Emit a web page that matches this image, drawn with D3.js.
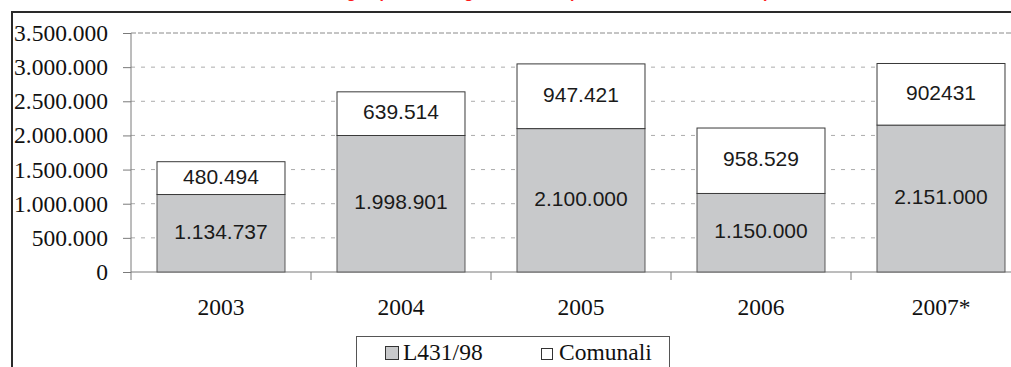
<!DOCTYPE html>
<html>
<head>
<meta charset="utf-8">
<script src="https://cdn.jsdelivr.net/npm/d3@7"></script>
<style>
  html, body { margin: 0; padding: 0; background: #fff; }
  svg { display: block; }
</style>
</head>
<body>
<svg id="chart" width="1011" height="367"></svg>
<script>
// Anni e contributi (euro) per fonte di finanziamento
const anni = ["2003", "2004", "2005", "2006", "2007*"];
const etichetteL431 = ["1.134.737", "1.998.901", "2.100.000", "1.150.000", "2.151.000"];
const etichetteComunali = ["480.494", "639.514", "947.421", "958.529", "902431"];
const valoriL431 = etichetteL431.map(s => +s.replace(/\./g, ""));
const valoriComunali = etichetteComunali.map(s => +s.replace(/\./g, ""));
const tickY = [0, 500000, 1000000, 1500000, 2000000, 2500000, 3000000, 3500000];
const tickYLabels = ["0", "500.000", "1.000.000", "1.500.000", "2.000.000", "2.500.000", "3.000.000", "3.500.000"];
const serie = ["L431/98", "Comunali"];
const titolo = "Contributi erogati per il sostegno all'affitto (L431/98 e fondi comunali)";

const svg = d3.select("#chart");
const serif = "'Liberation Serif', 'Times New Roman', Times, serif";
const sans = "'Liberation Sans', Arial, Helvetica, sans-serif";

// Titolo (sopra il riquadro)
svg.append("text")
  .attr("x", 505).attr("y", -2)
  .attr("text-anchor", "middle")
  .attr("fill", "#ff1a1a")
  .style("font-family", sans)
  .style("font-weight", "bold")
  .style("font-size", "16px")
  .text(titolo);

// Cornice del grafico
svg.append("path")
  .attr("d", "M12,367 L12,12 L1011,12")
  .attr("fill", "none")
  .attr("stroke", "#2a2a2a")
  .attr("stroke-width", 2);

const x0 = 131, x1 = 1031, yBase = 272, yTop = 33;
const x = d3.scaleBand().domain(anni).range([x0, x1]).paddingInner(0.289).paddingOuter(0.1445);
const y = d3.scaleLinear().domain([0, 3500000]).range([yBase, yTop]);

// Griglia orizzontale tratteggiata
svg.append("g").selectAll("line")
  .data(tickY.slice(1))
  .join("line")
  .attr("x1", x0).attr("x2", 1011)
  .attr("y1", d => y(d)).attr("y2", d => y(d))
  .attr("stroke", d => d === 3500000 ? "#8a8a8a" : "#ababab")
  .attr("stroke-width", 1)
  .attr("stroke-dasharray", d => d === 3500000 ? "5,2" : "4,6");

// Asse Y
const yAxis = d3.axisLeft(y)
  .tickValues(tickY)
  .tickFormat((d, i) => tickYLabels[i])
  .tickSize(8)
  .tickPadding(15);
const gy = svg.append("g")
  .attr("transform", `translate(${x0},0)`)
  .call(yAxis)
  .attr("font-family", null)
  .attr("font-size", null);
gy.select(".domain").attr("stroke", "#7a7a7a").attr("d", `M0,${yTop}V${yBase + 8}`);
gy.selectAll(".tick line").attr("stroke", "#7a7a7a");
gy.selectAll(".tick text")
  .style("font-family", serif)
  .style("font-size", "23.5px")
  .attr("fill", "#111");

// Asse X
const gx = svg.append("g").attr("transform", `translate(0,${yBase})`);
gx.append("line")
  .attr("x1", x0).attr("x2", 1011)
  .attr("y1", 0).attr("y2", 0)
  .attr("stroke", "#7a7a7a");
const step = x.step();
gx.selectAll("line.sep")
  .data(anni.slice(1))
  .join("line")
  .attr("class", "sep")
  .attr("x1", d => x(d) - (step - x.bandwidth()) / 2)
  .attr("x2", d => x(d) - (step - x.bandwidth()) / 2)
  .attr("y1", 0).attr("y2", 8)
  .attr("stroke", "#7a7a7a");
gx.selectAll("text")
  .data(anni)
  .join("text")
  .attr("x", d => x(d) + x.bandwidth() / 2)
  .attr("y", 43)
  .attr("text-anchor", "middle")
  .style("font-family", serif)
  .style("font-size", "23.5px")
  .attr("fill", "#111")
  .text(d => d);

// Barre impilate
const dati = anni.map((a, i) => ({ anno: a, l431: valoriL431[i], com: valoriComunali[i], i }));
const bars = svg.append("g");
bars.selectAll("rect.l431")
  .data(dati)
  .join("rect")
  .attr("class", "l431")
  .attr("x", d => x(d.anno))
  .attr("width", x.bandwidth())
  .attr("y", d => y(d.l431))
  .attr("height", d => y(0) - y(d.l431))
  .attr("fill", "#c8c9cb")
  .attr("stroke", "#5a5a5a")
  .attr("stroke-width", 1);
bars.selectAll("rect.com")
  .data(dati)
  .join("rect")
  .attr("class", "com")
  .attr("x", d => x(d.anno))
  .attr("width", x.bandwidth())
  .attr("y", d => y(d.l431 + d.com))
  .attr("height", d => y(d.l431) - y(d.l431 + d.com))
  .attr("fill", "#fff")
  .attr("stroke", "#3a3a3a")
  .attr("stroke-width", 1);

// Etichette dei valori
bars.selectAll("text.l431")
  .data(dati)
  .join("text")
  .attr("class", "l431")
  .attr("x", d => x(d.anno) + x.bandwidth() / 2)
  .attr("y", d => (y(0) + y(d.l431)) / 2 - 2)
  .attr("dy", "0.36em")
  .attr("text-anchor", "middle")
  .style("font-family", sans)
  .style("font-size", "21px")
  .attr("fill", "#1a1a1a")
  .text(d => etichetteL431[d.i]);
bars.selectAll("text.com")
  .data(dati)
  .join("text")
  .attr("class", "com")
  .attr("x", d => x(d.anno) + x.bandwidth() / 2)
  .attr("y", d => (y(d.l431) + y(d.l431 + d.com)) / 2 - 2)
  .attr("dy", "0.36em")
  .attr("text-anchor", "middle")
  .style("font-family", sans)
  .style("font-size", "21px")
  .attr("fill", "#1a1a1a")
  .text(d => etichetteComunali[d.i]);

// Legenda
const leg = svg.append("g");
leg.append("rect")
  .attr("x", 356.5).attr("y", 336.5)
  .attr("width", 313).attr("height", 40)
  .attr("fill", "#fff")
  .attr("stroke", "#555");
const legItems = [
  { nome: serie[0], fill: "#c8c9cb", sx: 385, size: 14, tx: 403 },
  { nome: serie[1], fill: "#fff", sx: 541, size: 12, tx: 559 }
];
legItems.forEach(it => {
  leg.append("rect")
    .attr("x", it.sx + 0.5).attr("y", 360 - it.size + 0.5)
    .attr("width", it.size - 1).attr("height", it.size - 1)
    .attr("fill", it.fill)
    .attr("stroke", "#333");
  leg.append("text")
    .attr("x", it.tx).attr("y", 360)
    .style("font-family", serif)
    .style("font-size", "23.5px")
    .attr("fill", "#111")
    .text(it.nome);
});
</script>
</body>
</html>
